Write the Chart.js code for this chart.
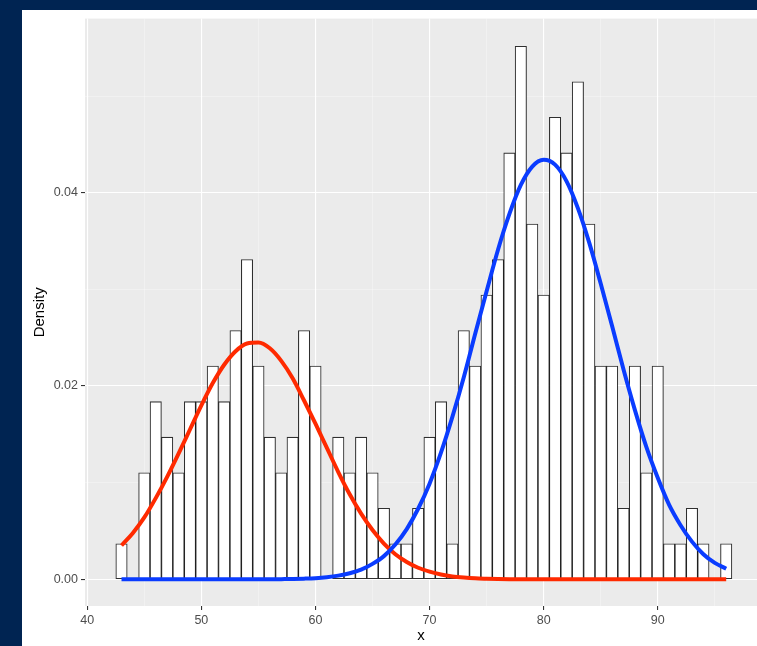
<!DOCTYPE html>
<html>
<head>
<meta charset="utf-8">
<script src="https://cdn.jsdelivr.net/npm/chart.js@4"></script>
<style>
  html, body { margin: 0; padding: 0; background: #002452; }
  canvas { display: block; }
</style>
</head>
<body>
<canvas id="chart" width="757" height="646"></canvas>
<script>
// histogram bins (centres) and counts per bin
const binCentres = [43, 44, 45, 46, 47, 48, 49, 50, 51, 52, 53, 54, 55, 56, 57, 58, 59, 60, 61, 62,
                    63, 64, 65, 66, 67, 68, 69, 70, 71, 72, 73, 74, 75, 76, 77, 78, 79, 80, 81, 82,
                    83, 84, 85, 86, 87, 88, 89, 90, 91, 92, 93, 94, 95, 96];
const binCounts = [1, 0, 3, 5, 4, 3, 5, 5, 6, 5, 7, 9, 6, 4, 3, 4, 7, 6, 0, 4,
                   3, 4, 3, 2, 1, 1, 2, 4, 5, 1, 7, 6, 8, 9, 12, 15, 10, 8, 13, 12,
                   14, 10, 6, 6, 2, 6, 3, 6, 1, 1, 2, 1, 0, 1];

// fitted component curves at each bin centre
const redCurve = [0.0035, 0.0048, 0.0064, 0.0084, 0.0106, 0.0130, 0.0155, 0.0180, 0.0203, 0.0222,
                  0.0236, 0.0244, 0.0245, 0.0239, 0.0226, 0.0208, 0.0185, 0.0161, 0.0136, 0.0111,
                  0.0088, 0.0068, 0.0051, 0.0037, 0.0026, 0.0018, 0.0012, 0.0008, 0.0005, 0.0003,
                  0.00018, 0.0001, 0.00006, 0.00003, 0.00001, 0, 0, 0, 0, 0,
                  0, 0, 0, 0, 0, 0, 0, 0, 0, 0, 0, 0, 0, 0];
const blueCurve = [0, 0, 0, 0, 0, 0, 0, 0, 0, 0,
                   0, 0, 0, 0, 0.00002, 0.00004, 0.00007, 0.00012, 0.00022, 0.00038,
                   0.00063, 0.0010, 0.0016, 0.0024, 0.0036, 0.0052, 0.0073, 0.0099, 0.0131, 0.0168,
                   0.0209, 0.0254, 0.0298, 0.0341, 0.0378, 0.0408, 0.0427, 0.0434, 0.0429, 0.0412,
                   0.0384, 0.0348, 0.0306, 0.0262, 0.0217, 0.0175, 0.0137, 0.0105, 0.0077, 0.0056,
                   0.0039, 0.0026, 0.0017, 0.0011];

const xTicks = [40, 45, 50, 55, 60, 65, 70, 75, 80, 85, 90, 95];
const yTicks = [0, 0.01, 0.02, 0.03, 0.04, 0.05];

const total = binCounts.reduce((a, b) => a + b, 0);
const histData = binCentres.map((x, i) => ({x: x, y: binCounts[i] / total}));
const redData = binCentres.map((x, i) => ({x: x, y: redCurve[i]}));
const blueData = binCentres.map((x, i) => ({x: x, y: blueCurve[i]}));

const FONT = "'Liberation Sans', Arial, Helvetica, sans-serif";

const background = {
  id: 'background',
  beforeDraw(chart) {
    const {ctx, chartArea} = chart;
    ctx.save();
    ctx.fillStyle = '#002452';
    ctx.fillRect(0, 0, chart.width, chart.height);
    ctx.fillStyle = '#ffffff';
    ctx.fillRect(22, 10, chart.width - 22, chart.height - 10);
    ctx.fillStyle = '#EBEBEB';
    ctx.fillRect(chartArea.left, chartArea.top, chartArea.right - chartArea.left, chartArea.bottom - chartArea.top);
    ctx.restore();
  }
};

// major / minor check from a scriptable context (tick can be missing)
const majorX = ctx => !ctx.tick || ctx.tick.value % 10 === 0;
const majorY = ctx => !ctx.tick || Math.round(ctx.tick.value * 100) % 2 === 0;

new Chart(document.getElementById('chart').getContext('2d'), {
  type: 'bar',
  data: {
    datasets: [
      {
        type: 'line', data: blueData, borderColor: '#0a3cff', borderWidth: 4,
        pointRadius: 0, cubicInterpolationMode: 'monotone', order: 0
      },
      {
        type: 'line', data: redData, borderColor: '#ff2a00', borderWidth: 4,
        pointRadius: 0, cubicInterpolationMode: 'monotone', order: 1
      },
      {
        type: 'bar', data: histData, backgroundColor: '#ffffff',
        borderColor: 'rgba(0,0,0,0.8)', borderWidth: 1.1, borderSkipped: false,
        barPercentage: 1, categoryPercentage: 1, order: 2
      }
    ]
  },
  options: {
    responsive: false,
    animation: false,
    layout: {padding: {left: 22, top: 18.6, right: 0, bottom: 0}},
    plugins: {legend: {display: false}, tooltip: {enabled: false}},
    scales: {
      x: {
        type: 'linear', min: 39.8, max: 98.7, offset: false,
        afterFit: s => { s.height = 40; },
        afterBuildTicks: s => { s.ticks = xTicks.map(v => ({value: v})); },
        border: {display: false},
        grid: {
          offset: false,
          color: ctx => majorX(ctx) ? '#ffffff' : 'rgba(255,255,255,0.55)',
          lineWidth: ctx => majorX(ctx) ? 1.1 : 0.6,
          tickColor: ctx => majorX(ctx) ? '#333333' : 'rgba(0,0,0,0)',
          tickLength: 4
        },
        ticks: {
          autoSkip: false, maxRotation: 0, padding: 3, color: '#4d4d4d',
          font: {family: FONT, size: 12.5},
          callback: v => v % 10 === 0 ? String(v) : ''
        },
        title: {
          display: true, text: 'x', color: '#000000',
          font: {family: FONT, size: 15}, padding: {top: 0, bottom: 1}
        }
      },
      y: {
        type: 'linear', min: -0.00276, max: 0.05801,
        afterFit: s => { s.width = 63; },
        afterBuildTicks: s => { s.ticks = yTicks.map(v => ({value: v})); },
        border: {display: false},
        grid: {
          offset: false,
          color: ctx => majorY(ctx) ? '#ffffff' : 'rgba(255,255,255,0.55)',
          lineWidth: ctx => majorY(ctx) ? 1.1 : 0.6,
          tickColor: ctx => majorY(ctx) ? '#333333' : 'rgba(0,0,0,0)',
          tickLength: 4
        },
        ticks: {
          padding: 3, color: '#4d4d4d',
          font: {family: FONT, size: 12.5},
          callback: v => Math.round(v * 100) % 2 === 0 ? v.toFixed(2) : ''
        },
        title: {
          display: true, text: 'Density', color: '#000000',
          font: {family: FONT, size: 15}, padding: {top: 9, bottom: 0}
        }
      }
    }
  },
  plugins: [background]
});
</script>
</body>
</html>
